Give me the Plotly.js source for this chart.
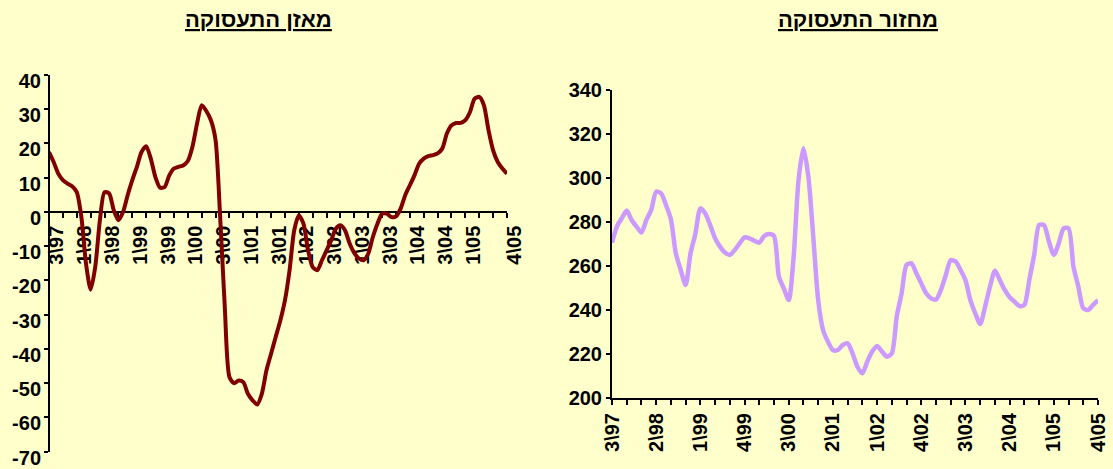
<!DOCTYPE html>
<html><head><meta charset="utf-8">
<script src="https://cdn.plot.ly/plotly-3.0.1.min.js"></script>
<style>html,body{margin:0;padding:0;background:#FFFFCC;} #chart{width:1113px;height:469px;}</style>
</head><body><div id="chart"></div>
<script>
// Quarter categories (3\97 .. 4\05)
const quarters = ['3\\97','4\\97','1\\98','2\\98','3\\98','4\\98','1\\99','2\\99','3\\99','4\\99',
  '1\\00','2\\00','3\\00','4\\00','1\\01','2\\01','3\\01','4\\01','1\\02','2\\02','3\\02','4\\02',
  '1\\03','2\\03','3\\03','4\\03','1\\04','2\\04','3\\04','4\\04','1\\05','2\\05','3\\05','4\\05'];

// Tick labels shown on each chart (one per quarter, '' = tick without label)
const balanceTickText = ['3\\97','','1\\98','','3\\98','','1\\99','','3\\99','','1\\00','','3\\00','','1\\01','','3\\01','',
  '1\\02','','3\\02','','1\\03','','3\\03','','1\\04','','3\\04','','1\\05','','','4\\05'];
const turnoverTickText = ['3\\97','','','2\\98','','','1\\99','','','4\\99','','','3\\00','','','2\\01','','',
  '1\\02','','','4\\02','','','3\\03','','','2\\04','','','1\\05','','','4\\05'];

const balanceYTicks = ['40','30','20','10','0','-10','-20','-30','-40','-50','-60','-70'];
const turnoverYTicks = ['340','320','300','280','260','240','220','200'];

const balanceTitle = 'מאזן התעסוקה';
const turnoverTitle = 'מחזור התעסוקה';

// Monthly values (three per quarter)
const balance = [17.5, 14.6, 11.2, 9.3, 8.3, 7.5, 5.8, -1.5, -15.1, -22.7,
  -16, -2.4, 5.8, 5.4, 0.5, -2.4, 0, 4.9, 9.3, 13.2,
  17.5, 19.2, 15.6, 10.2, 7.1, 7.3, 10.7, 12.7, 13.2, 13.6,
  14.9, 19, 25.8, 31.2, 29.5, 26.8, 21, -1.5, -27.8, -48.2,
  -50, -49.2, -49.7, -53.1, -55, -56.2, -53.1, -46.3, -41.4, -36.5,
  -31.7, -25.8, -17, -5.4, -1, -3.4, -11.2, -16.1, -17, -14.1,
  -11.2, -8.3, -4.9, -3.9, -5.4, -9.3, -12, -13.6, -14.1, -12.2,
  -7.3, -3.4, -0.5, -0.5, -1.5, -1.3, 1, 4.9, 7.8, 10.7,
  14.1, 15.6, 16.3, 16.6, 17.1, 18.5, 22.9, 25.3, 26, 26,
  26.8, 29.2, 33.1, 33.6, 31.2, 23.9, 18, 14.6, 12.7, 11.2];

const turnover = [270.6, 277.9, 281.7, 285.2, 280.9, 277.9, 275.2, 280.9, 285.5, 293.8,
  293, 287.7, 281.2, 265.8, 258.2, 251.4, 265.8, 274.8, 286.2, 283.9,
  278.6, 272.6, 268.8, 266.1, 265, 267.3, 270.3, 273, 272.6, 271.5,
  270.6, 273.6, 274.5, 273.6, 255.2, 249.8, 244.5, 264.2, 299.1, 313.5,
  300.6, 273.3, 244.5, 230.9, 225.6, 221.8, 221.8, 224.1, 224.8, 220.3,
  214.2, 211.2, 216.5, 221.1, 223.6, 221.1, 218.8, 220.3, 237, 247.6,
  260.5, 261.2, 256.7, 252.1, 247.6, 245.3, 244.8, 249.1, 255.9, 262.7,
  262, 258.2, 253.6, 244.5, 238.5, 233.6, 241.5, 250.6, 257.9, 253.6,
  249.1, 245.8, 243.8, 241.8, 242.3, 253.6, 265, 278.6, 278.6, 271.1,
  265, 270.3, 277.1, 277.1, 259.7, 250.6, 240.8, 240, 242.3, 244.5];

const W = 1113, H = 469;
const xMonths = balance.map((_, i) => i / 3);
const quarterIdx = quarters.map((_, i) => i);
const FONT = 'Liberation Sans, Arial, sans-serif';
const tickFont = {family: FONT, size: 20, color: '#000', weight: 'bold'};

const traces = [
  {x: xMonths, y: balance, xaxis: 'x', yaxis: 'y', type: 'scatter', mode: 'lines',
   line: {color: '#800000', width: 4, shape: 'spline', smoothing: 0.7}, hoverinfo: 'skip'},
  {x: xMonths, y: turnover, xaxis: 'x2', yaxis: 'y2', type: 'scatter', mode: 'lines',
   line: {color: '#CC99FF', width: 4.5, shape: 'spline', smoothing: 0.7}, hoverinfo: 'skip'},
  // empty trace that only registers the label axis of the left chart
  {x: [], y: [], xaxis: 'x', yaxis: 'y3', type: 'scatter', mode: 'lines', hoverinfo: 'skip'}
];

const px = v => v / W, py = v => 1 - v / H;
const axBase = {showline: true, linecolor: '#000', linewidth: 2, ticks: 'outside', tickcolor: '#000',
  tickwidth: 2, showgrid: false, zeroline: false, fixedrange: true, tickfont: tickFont, ticklabeloverflow: 'allow'};

const balY = balanceYTicks.map(Number);
const turY = turnoverYTicks.map(Number);
const balRange = [Math.min(...balY), Math.max(...balY)];
const labelDrop = 6; // left chart value labels sit slightly below their ticks

const layout = {
  width: W, height: H, margin: {l: 0, r: 0, t: 0, b: 0},
  paper_bgcolor: '#FFFFCC', plot_bgcolor: 'rgba(0,0,0,0)', showlegend: false,
  xaxis: Object.assign({}, axBase, {domain: [px(49), px(507)], range: [0, 33], anchor: 'free',
    position: py(211.7), tickmode: 'array', tickvals: quarterIdx, ticktext: balanceTickText,
    tickangle: -90, ticklen: 5, ticklabelshift: 8, layer: 'below traces'}),
  yaxis: Object.assign({}, axBase, {domain: [py(451.7), py(75)], range: balRange,
    anchor: 'free', position: px(49), tickmode: 'array', tickvals: balY, showticklabels: false, ticklen: 4}),
  yaxis3: Object.assign({}, axBase, {domain: [py(451.7 + labelDrop), py(75 + labelDrop)], range: balRange,
    anchor: 'free', position: px(49), showline: false, tickcolor: 'rgba(0,0,0,0)',
    tickmode: 'array', tickvals: balY, ticktext: balanceYTicks, ticklen: 4}),
  xaxis2: Object.assign({}, axBase, {domain: [px(612), px(1098)], range: [0, 33], anchor: 'y2',
    tickmode: 'array', tickvals: quarterIdx, ticktext: turnoverTickText, tickangle: -90, ticklen: 5}),
  yaxis2: Object.assign({}, axBase, {domain: [py(398), py(90)], range: [Math.min(...turY), Math.max(...turY)],
    anchor: 'x2', tickmode: 'array', tickvals: turY, ticktext: turnoverYTicks, ticklen: 4}),
  annotations: [
    {text: balanceTitle, xref: 'paper', yref: 'paper', x: px(258), y: py(20), showarrow: false,
     xanchor: 'center', yanchor: 'middle', font: {family: FONT, size: 22, color: '#000', weight: 'bold', lineposition: 'under'}},
    {text: turnoverTitle, xref: 'paper', yref: 'paper', x: px(858), y: py(20), showarrow: false,
     xanchor: 'center', yanchor: 'middle', font: {family: FONT, size: 22, color: '#000', weight: 'bold', lineposition: 'under'}}
  ]
};

Plotly.newPlot('chart', traces, layout, {displayModeBar: false, staticPlot: true});
</script>
</body></html>
